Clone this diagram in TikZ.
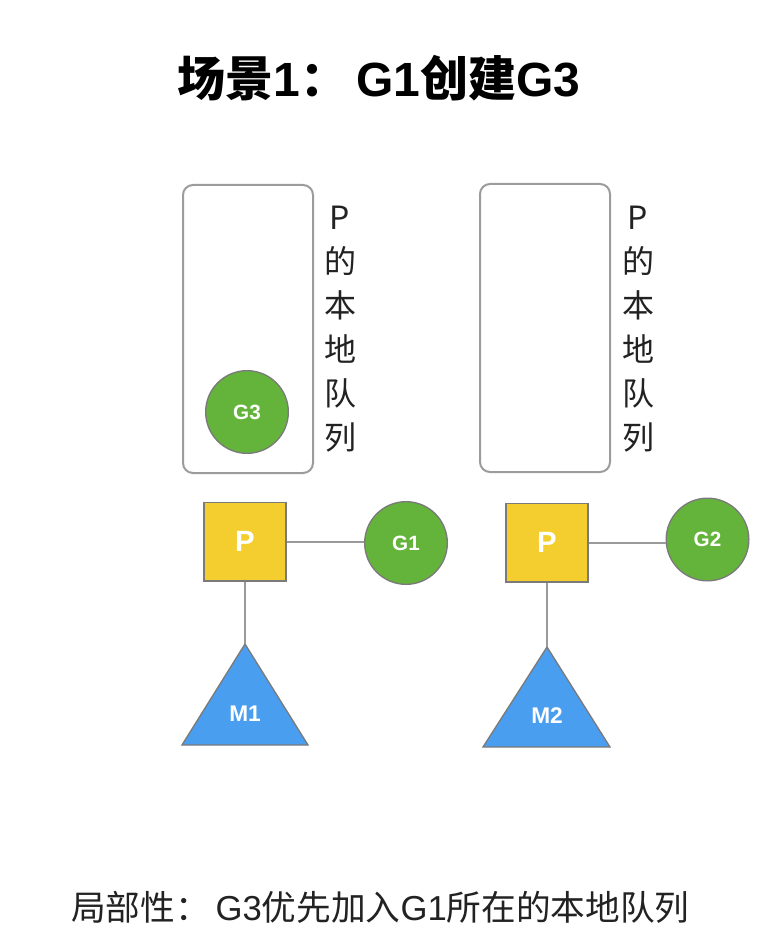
\documentclass[tikz,border=0pt]{standalone}
\usepackage{fontspec}
\setmainfont{Liberation Sans}
\newfontfamily\cjk{Noto Sans CJK SC}
\usetikzlibrary{positioning}
\definecolor{pyellow}{HTML}{F4CD2E}
\definecolor{ggreen}{HTML}{64B43C}
\definecolor{mblue}{HTML}{4A9EF0}
\definecolor{edgegray}{HTML}{7A7A7A}
\definecolor{linegray}{HTML}{9A9A9A}
\definecolor{boxgray}{HTML}{9C9C9C}
\definecolor{txt}{HTML}{222222}
\tikzset{
  queuebox/.style={draw=boxgray, line width=1.5pt, rounded corners=7.5pt, minimum width=97.5pt, minimum height=216pt, inner sep=0pt},
  gnode/.style={circle, draw=edgegray, line width=1pt, fill=ggreen, minimum size=62pt, inner sep=0pt, text=white, font=\bfseries\fontsize{15.5}{15.5}\selectfont},
  pnode/.style={rectangle, draw=edgegray, line width=1pt, fill=pyellow, minimum width=61.5pt, minimum height=59pt, inner sep=0pt, text=white, font=\bfseries\fontsize{22}{22}\selectfont},
  mtri/.style={draw=edgegray, line width=1pt, fill=mblue},
  mlabel/.style={text=white, font=\bfseries\fontsize{17}{17}\selectfont, inner sep=0pt},
  link/.style={draw=linegray, line width=1.5pt},
  vlabel/.style={align=center, text=txt, font=\cjk\fontsize{24}{33}\selectfont, inner sep=0pt},
}
\begin{document}
\begin{tikzpicture}[x=0.75pt,y=-0.75pt]
\useasboundingbox[fill=white] (0,0) rectangle (771,930);

% title
\node[font=\bfseries\fontsize{36}{36}\selectfont, text=black] (title) at (379,78) {{\cjk 场景}1{\cjk ：}\,G1{\cjk 创建}G3};

% queues
\node[queuebox] (q1) at (248,329) {};
\node[queuebox] (q2) at (545,328) {};
\node[gnode] (g3) at (247,412) {G3};
\node[vlabel] (l1) at (340,329) {P\\的\\本\\地\\队\\列};
\node[vlabel] (l2) at (638,329) {P\\的\\本\\地\\队\\列};

% left group
\node[pnode] (p1) at (245,541.5) {P};
\node[gnode] (g1) at (406,543) {G1};
\coordinate (m1top) at (245,644);
\draw[mtri] (m1top) -- (308,745) -- (182,745) -- cycle;
\node[mlabel] (m1) at (245,714) {M1};
\draw[link] (p1.east) -- (g1.west |- p1.east);
\draw[link] (p1.south) -- (m1top);

% right group
\node[pnode] (p2) at (547,542.5) {P};
\node[gnode] (g2) at (707.5,539.5) {G2};
\coordinate (m2top) at (547,647);
\draw[mtri] (m2top) -- (610,747) -- (483,747) -- cycle;
\node[mlabel] (m2) at (547,716) {M2};
\draw[link] (p2.east) -- (g2.west |- p2.east);
\draw[link] (p2.south) -- (m2top);

% bottom
\node[anchor=west, font=\fontsize{26}{26}\selectfont, text=txt, inner sep=0pt] (note) at (71,907) {{\cjk 局部性：}\,G3{\cjk 优先加入}G1{\cjk 所在的本地队列}};
\end{tikzpicture}
\end{document}
